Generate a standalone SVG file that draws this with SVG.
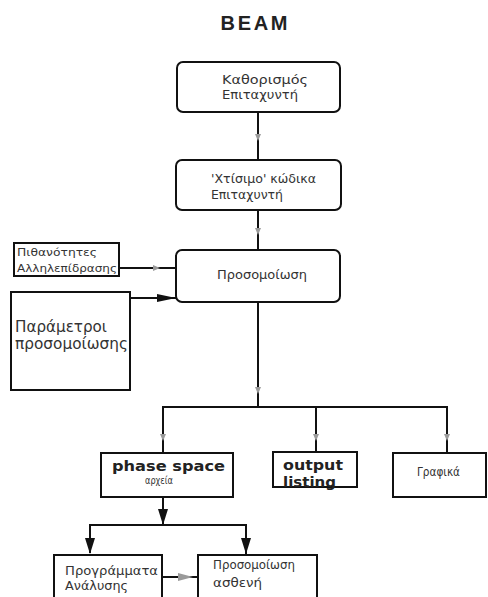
<svg xmlns="http://www.w3.org/2000/svg" width="488" height="597" viewBox="0 0 488 597">
<style>
.box{fill:#fff;stroke:#111;stroke-width:2}
.ln{fill:none;stroke:#111;stroke-width:2}
.gm{fill:#9a9a9a}
.bm{fill:#111}
.t{font-family:"DejaVu Sans","Noto Sans",sans-serif;fill:#333}
.b{font-family:"DejaVu Sans","Liberation Sans",sans-serif;font-weight:bold;fill:#222}
</style>
<rect width="488" height="597" fill="#fff"/>
<text x="254" y="30" style="font-family:'Liberation Sans',sans-serif;font-weight:bold;font-size:20px;fill:#222" text-anchor="middle" textLength="67" lengthAdjust="spacing">BEAM</text>

<g id="connectors">
  <path class="ln" d="M258 113 V160"/>
  <path class="gm" d="M255 134 h6 l-3 7 z"/>
  <path class="ln" d="M258 210 V250"/>
  <path class="gm" d="M255 228 h6 l-3 7 z"/>
  <path class="ln" d="M119 268 H176"/>
  <path class="gm" d="M153 265 v6 l7 -3 z"/>
  <path class="ln" d="M130 298 H176"/>
  <path class="bm" d="M157 294 v8 l19 -4 z"/>
  <path class="ln" d="M258 302 V407"/>
  <path class="gm" d="M255 387 h6 l-3 7 z"/>
  <path class="ln" d="M163 453 V407 H447 V453"/>
  <path class="ln" d="M316 407 V452"/>
  <path class="gm" d="M160 434 h6 l-3 7 z"/>
  <path class="gm" d="M313 434 h6 l-3 7 z"/>
  <path class="gm" d="M444 434 h6 l-3 7 z"/>
  <path class="ln" d="M163 497 V525"/>
  <path class="bm" d="M158 509 h10 l-5 16 z"/>
  <path class="ln" d="M90 553 V525 H246 V555"/>
  <path class="bm" d="M85 538 h10 l-5 16 z"/>
  <path class="bm" d="M241 538 h10 l-5 16 z"/>
  <path class="ln" d="M162 577 H198"/>
  <path class="gm" d="M178 573 v8 l15 -4 z"/>
</g>

<g id="n1">
  <rect class="box" x="177" y="62" width="163" height="50" rx="6"/>
  <text class="t" style="font-size:12.5px" x="222" y="84" textLength="86" lengthAdjust="spacingAndGlyphs">Καθορισμός</text>
  <text class="t" style="font-size:12.5px" x="222" y="99" textLength="76" lengthAdjust="spacingAndGlyphs">Επιταχυντή</text>
</g>
<g id="n2">
  <rect class="box" x="176" y="160" width="165" height="50" rx="6"/>
  <text class="t" style="font-size:12.5px" x="211" y="183" textLength="105" lengthAdjust="spacingAndGlyphs">'Χτίσιμο' κώδικα</text>
  <text class="t" style="font-size:12.5px" x="211" y="199" textLength="72" lengthAdjust="spacingAndGlyphs">Επιταχυντή</text>
</g>
<g id="n3">
  <rect class="box" x="176" y="250" width="164" height="52" rx="6"/>
  <text class="t" style="font-size:12.5px" x="217" y="279" textLength="90" lengthAdjust="spacingAndGlyphs">Προσομοίωση</text>
</g>
<g id="n4">
  <rect class="box" x="14" y="243" width="105" height="33"/>
  <text class="t" style="font-size:11px" x="17" y="256" textLength="80" lengthAdjust="spacingAndGlyphs">Πιθανότητες</text>
  <text class="t" style="font-size:11px" x="17" y="272" textLength="100" lengthAdjust="spacingAndGlyphs">Αλληλεπίδρασης</text>
</g>
<g id="n5">
  <rect class="box" x="11" y="292" width="119" height="98"/>
  <text class="t" style="font-size:15px" x="15" y="332" textLength="92" lengthAdjust="spacingAndGlyphs">Παράμετροι</text>
  <text class="t" style="font-size:15px" x="15" y="349" textLength="113" lengthAdjust="spacingAndGlyphs">προσομοίωσης</text>
</g>
<g id="n6">
  <rect class="box" x="101" y="453" width="132" height="44"/>
  <text class="b" style="font-size:14px" x="112" y="471" textLength="113" lengthAdjust="spacingAndGlyphs">phase space</text>
  <text class="t" style="font-size:10.5px" x="145" y="484" textLength="28" lengthAdjust="spacingAndGlyphs">αρχεία</text>
</g>
<g id="n7">
  <rect class="box" x="273" y="452" width="84" height="35"/>
  <text class="b" style="font-size:14px" x="283" y="470" textLength="60" lengthAdjust="spacingAndGlyphs">output</text>
  <text class="b" style="font-size:14px" x="283" y="487" textLength="53" lengthAdjust="spacingAndGlyphs">listing</text>
</g>
<g id="n8">
  <rect class="box" x="393" y="453" width="93" height="44"/>
  <text class="t" style="font-size:12px" x="417" y="476" textLength="43" lengthAdjust="spacingAndGlyphs">Γραφικά</text>
</g>
<g id="n9">
  <rect class="box" x="54" y="555" width="108" height="50"/>
  <text class="t" style="font-size:12.5px" x="65" y="575" textLength="93" lengthAdjust="spacingAndGlyphs">Προγράμματα</text>
  <text class="t" style="font-size:12.5px" x="65" y="590" textLength="63" lengthAdjust="spacingAndGlyphs">Ανάλυσης</text>
</g>
<g id="n10">
  <rect class="box" x="198" y="555" width="119" height="50"/>
  <text class="t" style="font-size:12.5px" x="213" y="569" textLength="82" lengthAdjust="spacingAndGlyphs">Προσομοίωση</text>
  <text class="t" style="font-size:12.5px" x="213" y="587" textLength="49" lengthAdjust="spacingAndGlyphs">ασθενή</text>
</g>
</svg>
